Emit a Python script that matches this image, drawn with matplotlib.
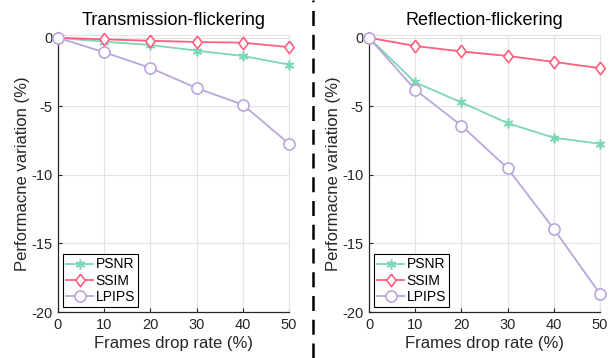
import matplotlib
matplotlib.use('Agg')
import matplotlib.pyplot as plt
from matplotlib.lines import Line2D

plt.rcParams['font.family'] = ['Liberation Sans', 'DejaVu Sans']

# Data
drop_rate = [0, 10, 20, 30, 40, 50]

trans_psnr = [0, -0.29, -0.53, -0.94, -1.33, -1.96]
trans_ssim = [0, -0.12, -0.22, -0.31, -0.36, -0.68]
trans_lpips = [0, -1.06, -2.2, -3.67, -4.88, -7.73]

refl_psnr = [0, -3.26, -4.71, -6.23, -7.29, -7.73]
refl_ssim = [0, -0.6, -1.0, -1.33, -1.76, -2.22]
refl_lpips = [0, -3.79, -6.4, -9.52, -13.94, -18.67]

titles = ['Transmission-flickering', 'Reflection-flickering']

c_psnr = '#7dd6b4'
c_ssim = '#ff5f7e'
c_lpips = '#b9a6db'

# MATLAB-like diamond (taller than wide)
diamond = [(0, 1), (0.75, 0), (0, -1), (-0.75, 0), (0, 1)]

W, H = 611, 358
fig = plt.figure(figsize=(W / 100, H / 100), dpi=100)

def px_axes(x0, x1, ytop, ybot):
    return fig.add_axes([x0 / W, (H - ybot) / H, (x1 - x0) / W, (ybot - ytop) / H])

ax1 = px_axes(58, 289, 35, 312)
ax2 = px_axes(369, 600, 35, 312)

datasets = [(trans_psnr, trans_ssim, trans_lpips), (refl_psnr, refl_ssim, refl_lpips)]

for ax, (psnr, ssim, lpips), title in zip([ax1, ax2], datasets, titles):
    ax.plot(drop_rate, psnr, color=c_psnr, marker=(6, 2, 0), ms=7, mew=1.2,
            lw=1.3, label='PSNR', zorder=3)
    ax.plot(drop_rate, ssim, color=c_ssim, marker=diamond, ms=9, mfc='white', mew=1.2,
            lw=1.3, label='SSIM', zorder=3)
    ax.plot(drop_rate, lpips, color=c_lpips, marker='o', ms=8, mfc='white', mew=1.2,
            lw=1.3, label='LPIPS', zorder=3)
    for l in ax.lines:
        l.set_clip_on(False)

    ax.set_xlim(0, 50)
    ax.set_ylim(-20, 0.2)
    ax.set_xticks(drop_rate)
    ax.set_yticks([-20, -15, -10, -5, 0])
    ax.set_yticklabels(['-20', '-15', '-10', '-5', '0'])
    ax.grid(True, color='#e3e3e3', lw=0.8)
    ax.set_axisbelow(True)
    for s in ['top', 'right']:
        ax.spines[s].set_color('#e3e3e3')
        ax.spines[s].set_linewidth(0.8)
    for s in ['left', 'bottom']:
        ax.spines[s].set_color('#262626')
        ax.spines[s].set_linewidth(0.9)
    ax.tick_params(direction='in', length=3, width=0.8, labelsize=10.5,
                   colors='#262626', pad=4)
    ax.set_xlabel('Frames drop rate (%)', fontsize=12, color='#262626', labelpad=3.5)
    ax.set_ylabel('Performacne variation (%)', fontsize=12, color='#262626', labelpad=1)
    ax.set_title(title, fontsize=13, color='black', pad=7)

    leg = ax.legend(loc='lower left', fontsize=10, frameon=True, fancybox=False,
                    edgecolor='black', framealpha=1, handlelength=1.9,
                    handletextpad=0.2, borderpad=0.25, labelspacing=0.15,
                    borderaxespad=0.35)
    leg.get_frame().set_linewidth(0.8)

# dashed divider between panels
fig.add_artist(Line2D([313 / W, 313 / W], [0, 1], transform=fig.transFigure,
                      color='black', lw=1.8, ls=(0, (6, 3.5))))

fig.savefig('out.png', dpi=100)
